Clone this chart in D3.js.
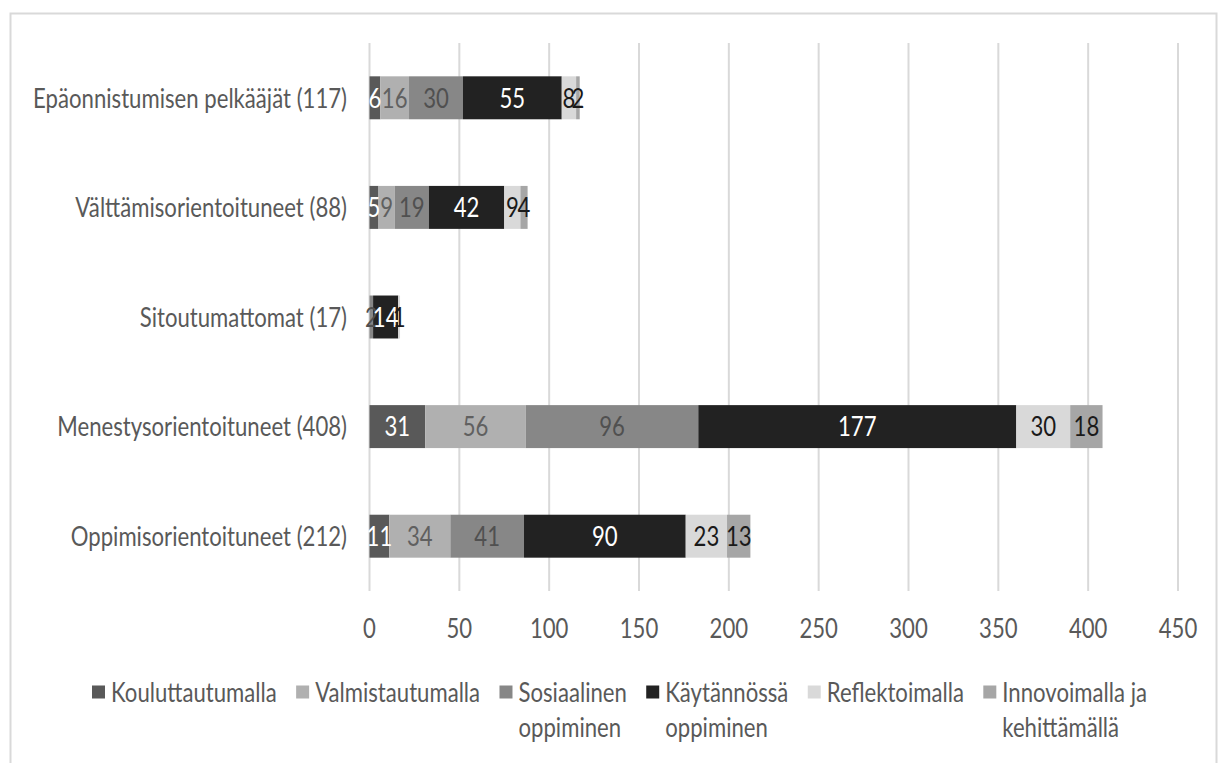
<!DOCTYPE html>
<html>
<head>
<meta charset="utf-8">
<script src="https://cdn.jsdelivr.net/npm/d3@7/dist/d3.min.js"></script>
<style>
  html, body { margin: 0; padding: 0; background: #ffffff; }
  svg { display: block; }
  text { font-family: Lato, "Open Sans", "DejaVu Sans", sans-serif; }
</style>
</head>
<body>
<svg id="chart" width="1222" height="763"></svg>
<script>
// Orientation groups, top to bottom
const categories = [
  "Epäonnistumisen pelkääjät (117)",
  "Välttämisorientoituneet (88)",
  "Sitoutumattomat (17)",
  "Menestysorientoituneet (408)",
  "Oppimisorientoituneet (212)"
];

// Learning-style series (one value per group, same order as categories)
const seriesNames = [
  "Kouluttautumalla",
  "Valmistautumalla",
  "Sosiaalinen oppiminen",
  "Käytännössä oppiminen",
  "Reflektoimalla",
  "Innovoimalla ja kehittämällä"
];
const kouluttautumalla   = [6, 5, 0, 31, 11];
const valmistautumalla   = [16, 9, 0, 56, 34];
const sosiaalinen        = [30, 19, 2, 96, 41];
const kaytannossa        = [55, 42, 14, 177, 90];
const reflektoimalla     = [8, 9, 1, 30, 23];
const innovoimalla       = [2, 4, 0, 18, 13];

// Legend text, split into lines
const legendLines = [
  ["Kouluttautumalla"],
  ["Valmistautumalla"],
  ["Sosiaalinen", "oppiminen"],
  ["Käytännössä", "oppiminen"],
  ["Reflektoimalla"],
  ["Innovoimalla ja", "kehittämällä"]
];

const xTicks = [0, 50, 100, 150, 200, 250, 300, 350, 400, 450];

const seriesValues = [kouluttautumalla, valmistautumalla, sosiaalinen, kaytannossa, reflektoimalla, innovoimalla];
const fills      = ["#595959", "#b0b0b0", "#878787", "#222222", "#d9d9d9", "#a6a6a6"];
const labelFills = ["#ffffff", "#606060", "#505050", "#ffffff", "#1a1a1a", "#1a1a1a"];

const rows = categories.map((c, i) => {
  const r = { category: c };
  seriesNames.forEach((s, j) => { r[s] = seriesValues[j][i]; });
  return r;
});
const stacked = d3.stack().keys(seriesNames)(rows);

const svg = d3.select("#chart");
const fontSize = 27;
const textColor = "#595959";

function measure(str) {
  const t = svg.append("text").attr("font-size", fontSize).text(str);
  const w = t.node().getComputedTextLength();
  t.remove();
  return w;
}

// Narrow text: horizontal compression calibrated on the longest category label
const sx = 314 / measure(categories[0]);

function label(g, x, y, str, opts) {
  return g.append("text")
    .attr("transform", `translate(${x},${y}) scale(${sx},1)`)
    .attr("dy", "0.36em")
    .attr("font-size", fontSize)
    .attr("text-anchor", opts.anchor || "middle")
    .attr("fill", opts.fill || textColor)
    .text(str);
}

// Outer frame
svg.append("rect")
  .attr("x", 10.5).attr("y", 13.5)
  .attr("width", 1206).attr("height", 800)
  .attr("fill", "none").attr("stroke", "#d9d9d9").attr("stroke-width", 2);

const plot = { left: 369.5, right: 1178, top: 43, bottom: 591 };

const x = d3.scaleLinear().domain([0, 450]).range([plot.left, plot.right]);
const y = d3.scaleBand().domain(categories)
  .range([plot.top, plot.bottom])
  .paddingInner(0.608).paddingOuter(0.304);

// Vertical gridlines
svg.append("g").selectAll("line").data(xTicks).join("line")
  .attr("x1", d => x(d)).attr("x2", d => x(d))
  .attr("y1", plot.top).attr("y2", plot.bottom)
  .attr("stroke", "#d9d9d9").attr("stroke-width", 2);

// Stacked bars
const layers = svg.append("g").selectAll("g").data(stacked).join("g")
  .attr("fill", (d, i) => fills[i]);
layers.selectAll("rect").data(d => d).join("rect")
  .attr("x", d => x(d[0]))
  .attr("width", d => x(d[1]) - x(d[0]))
  .attr("y", d => y(d.data.category))
  .attr("height", y.bandwidth());

// Value labels centred in each segment
const valG = svg.append("g");
stacked.forEach((layer, i) => {
  layer.forEach(d => {
    const v = d[1] - d[0];
    if (v <= 0) return;
    label(valG, x((d[0] + d[1]) / 2), y(d.data.category) + y.bandwidth() / 2, String(v),
      { fill: labelFills[i] });
  });
});

// Category labels
const catG = svg.append("g");
categories.forEach(c => {
  label(catG, 347, y(c) + y.bandwidth() / 2, c, { anchor: "end" });
});

// X axis tick labels
const axG = svg.append("g");
xTicks.forEach(t => label(axG, x(t), 628, String(t), {}));

// Legend spread across the bottom
const legG = svg.append("g");
const sq = 13, sqGap = 6;
const legLeft = 92, legRight = 1147;
const line1 = 692, line2 = 727;
const widths = legendLines.map(lines => sq + sqGap + d3.max(lines, measure) * sx);
const itemGap = (legRight - legLeft - d3.sum(widths)) / (widths.length - 1);
let cx = legLeft;
legendLines.forEach((lines, i) => {
  legG.append("rect")
    .attr("x", cx).attr("y", line1 - sq / 2)
    .attr("width", sq).attr("height", sq)
    .attr("fill", fills[i]);
  lines.forEach((s, k) => {
    label(legG, cx + sq + sqGap, k === 0 ? line1 : line2, s, { anchor: "start" });
  });
  cx += widths[i] + itemGap;
});
</script>
</body>
</html>
